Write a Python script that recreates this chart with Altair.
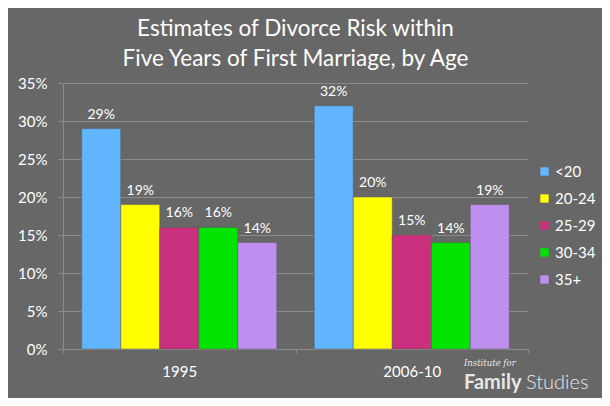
import altair as alt
import pandas as pd

periods = ["1995", "2006-10"]
ages = ["<20", "20-24", "25-29", "30-34", "35+"]
values_1995 = [0.29, 0.19, 0.16, 0.16, 0.14]
values_2006 = [0.32, 0.20, 0.15, 0.14, 0.19]
colors = ["#62b5ff", "#ffff00", "#c9317f", "#00e400", "#bf8ff0"]
y_ticks = [0, 0.05, 0.1, 0.15, 0.2, 0.25, 0.3, 0.35]

rows = []
for p, vals in zip(periods, [values_1995, values_2006]):
    for a, v in zip(ages, vals):
        rows.append({"period": p, "age": a, "value": v})
df = pd.DataFrame(rows)

BG = "#676767"
GRID = "#8c8c8c"
FONT = "Lato"

yenc = alt.Y("value:Q", title=None,
             scale=alt.Scale(domain=[0, 0.35]),
             axis=alt.Axis(format=".0%", values=y_ticks, grid=True,
                           labelOverlap=False,
                           tickSize=5, labelPadding=11, labelFontSize=15, labelFont=FONT,
                           labelColor="white", gridColor=GRID, domainColor=GRID,
                           tickColor=GRID))

base = alt.Chart(df).encode(
    x=alt.X("period:N", sort=periods, title=None,
            scale=alt.Scale(paddingInner=0, paddingOuter=0),
            axis=alt.Axis(labelAngle=0, tickBand="extent", tickSize=4, grid=False,
                          labelPadding=11, labelFontSize=15, labelFont=FONT,
                          labelColor="white", domainColor=GRID, tickColor=GRID)),
    xOffset=alt.XOffset("age:N", sort=ages,
                        scale=alt.Scale(paddingInner=0, paddingOuter=0.48)),
    y=yenc,
)

bars = base.mark_bar(stroke="#5a5a5a", strokeWidth=0.5).encode(
    color=alt.Color("age:N", sort=ages, title=None,
                    scale=alt.Scale(domain=ages, range=colors),
                    legend=alt.Legend(orient="none", legendX=474, legendY=81,
                                      symbolType="square", symbolSize=70,
                                      symbolStrokeWidth=0, labelFontSize=15,
                                      labelFont=FONT, labelColor="white",
                                      rowPadding=11, labelOffset=3)),
)

labels = base.mark_text(dy=-7, baseline="bottom", color="white",
                        fontSize=14, font=FONT).encode(
    text=alt.Text("value:Q", format=".0%"),
)

wm1 = alt.Chart(pd.DataFrame({"t": ["Institute for"]})).mark_text(
    font="DejaVu Serif", fontStyle="italic", fontSize=8.5, color="#e6e6e6",
    align="left", baseline="alphabetic").encode(
    x=alt.value(401), y=alt.value(283), text="t:N")
wm2 = alt.Chart(pd.DataFrame({"t": ["Family"]})).mark_text(
    font=FONT, fontWeight="bold", fontSize=20, color="#e6e6e6",
    align="left", baseline="alphabetic").encode(
    x=alt.value(401), y=alt.value(306), text="t:N")
wm3 = alt.Chart(pd.DataFrame({"t": ["Studies"]})).mark_text(
    font=FONT, fontWeight=300, fontSize=20, color="#e6e6e6",
    align="left", baseline="alphabetic").encode(
    x=alt.value(463), y=alt.value(306), text="t:N")

chart = alt.layer(bars, labels, wm1, wm2, wm3).properties(
    width=465, height=266,
    padding={"left": 55, "top": 75, "right": 74, "bottom": 49},
    autosize=alt.AutoSizeParams(type="none"),
    background=BG,
    title=alt.TitleParams(
        text=["Estimates of Divorce Risk within", "Five Years of First Marriage, by Age"],
        font=FONT, fontSize=22.5, fontWeight="normal", color="white",
        lineHeight=30, anchor="middle", offset=6),
).configure_view(stroke=None)

chart.save("out.html", embed_options={"renderer": "svg", "actions": False})
